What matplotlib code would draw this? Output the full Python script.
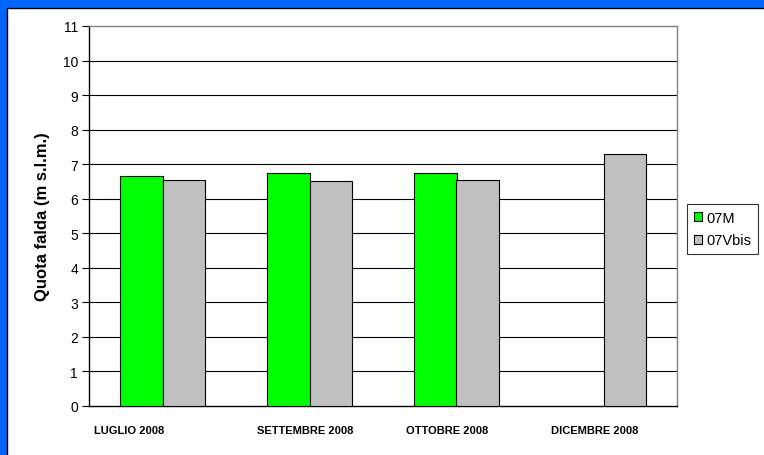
import numpy as np
import matplotlib
matplotlib.use("Agg")
import matplotlib.pyplot as plt
from matplotlib.patches import Rectangle

plt.rcParams['font.family'] = ['Liberation Sans', 'DejaVu Sans']

# dati
categorie = ["LUGLIO 2008", "SETTEMBRE 2008", "OTTOBRE 2008", "DICEMBRE 2008"]
val_07M = [6.65, 6.75, 6.75, np.nan]
val_07Vbis = [6.55, 6.5, 6.55, 7.3]
label_shift = [-0.228, -0.027, -0.061, -0.058]

fig = plt.figure(figsize=(7.64, 4.56), dpi=100)
fig.patch.set_facecolor("#0066FF")
# pannello bianco
fig.patches.append(Rectangle((7 / 764, -0.01), 1, 1.01 - 9 / 456, transform=fig.transFigure,
                             facecolor="white", edgecolor="black", linewidth=1, zorder=-5))

ax = fig.add_axes([89 / 764, 49 / 456, 588 / 764, 380 / 456])
ax.set_facecolor("white")

x = np.arange(len(categorie))
w = 0.286
ax.bar(x - w / 2, val_07M, w, color="#00FF00", edgecolor="black", linewidth=0.8,
       label="07M", zorder=3)
ax.bar(x + w / 2, val_07Vbis, w, color="#C0C0C0", edgecolor="black", linewidth=0.8,
       label="07Vbis", zorder=3)

ax.set_xlim(-0.5, 3.5)
ax.set_ylim(0, 11)
ax.set_yticks(range(0, 12))
for yv in range(1, 11):
    ax.axhline(yv, color="black", linewidth=0.8, zorder=1)
ax.tick_params(axis="y", direction="out", length=5, width=0.8, labelsize=10, pad=3)

ax.set_xticks(x + np.array(label_shift))
ax.set_xticklabels(categorie, fontsize=8, fontweight="bold")
ax.tick_params(axis="x", length=0, pad=14)

for s in ["left", "bottom"]:
    ax.spines[s].set_color("black")
    ax.spines[s].set_linewidth(1)
for s in ["top", "right"]:
    ax.spines[s].set_color("#808080")
    ax.spines[s].set_linewidth(1)

ax.set_ylabel("Quota falda (m s.l.m.)", fontsize=12, fontweight="bold", labelpad=9)

leg = fig.legend(loc="upper left", bbox_to_anchor=(687 / 764, 1 - 205 / 456),
                 frameon=True, fancybox=False, fontsize=10.5, handlelength=0.6,
                 handleheight=0.6, handletextpad=0.3, borderpad=0.45, labelspacing=0.6,
                 borderaxespad=0)
leg.get_frame().set_edgecolor("black")
leg.get_frame().set_linewidth(0.8)

fig.savefig("out.png", dpi=100, facecolor=fig.get_facecolor())
